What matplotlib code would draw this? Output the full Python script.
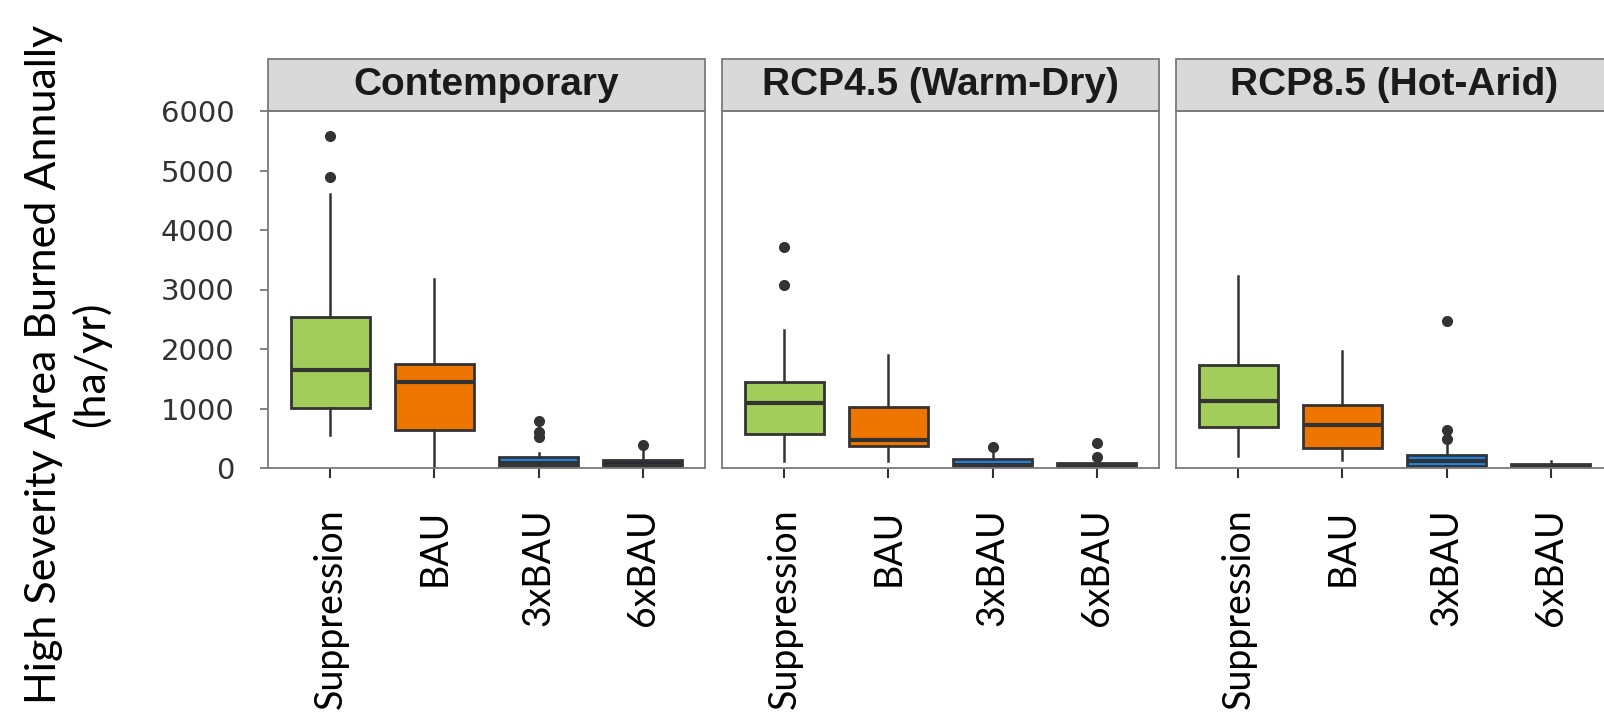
import matplotlib
matplotlib.use("Agg")
import matplotlib.pyplot as plt
from matplotlib.patches import Rectangle

# facet panels and box categories
scenarios = ["Contemporary", "RCP4.5 (Warm-Dry)", "RCP8.5 (Hot-Arid)"]
treatments = ["Suppression", "BAU", "3xBAU", "6xBAU"]
box_colors = ["#a2cd5a", "#ee7600", "#1c86ee", "#2e2a36"]

# box statistics (ha/yr), one row per scenario
whislo = [[560, 0, 0, 0], [112, 112, 0, 0], [196, 140, 0, 0]]
q1 = [[1007, 644, 39, 0], [577, 364, 22, 0], [688, 330, 39, 0]]
med = [[1640, 1438, 85, 40], [1091, 465, 50, 30], [1119, 716, 120, 25]]
q3 = [[2535, 1752, 190, 134], [1438, 1024, 157, 79], [1735, 1052, 218, 67]]
whishi = [[4606, 3173, 257, 302], [2323, 1903, 250, 170], [3229, 1959, 386, 118]]
fliers = [
    [[5586, 4897], [], [795, 610, 526], [386]],
    [[3722, 3073], [], [358], [415, 180]],
    [[], [], [2474, 639, 482], []],
]

yticks = [0, 1000, 2000, 3000, 4000, 5000, 6000]
ylabel = "High Severity Area Burned Annually\n(ha/yr)"

W, H = 1604, 716
fig = plt.figure(figsize=(W / 100, H / 100), dpi=100)

panel_left = [268, 722, 1176]
panel_w = 437
panel_top, panel_bot = 111, 468
strip_h = 52

edge = "#333333"
frame = "#7a7a7a"

axes = []
for i, name in enumerate(scenarios):
    ax = fig.add_axes([panel_left[i] / W, 1 - panel_bot / H,
                       panel_w / W, (panel_bot - panel_top) / H])
    stats = []
    for j, t in enumerate(treatments):
        stats.append(dict(med=med[i][j], q1=q1[i][j], q3=q3[i][j],
                          whislo=whislo[i][j], whishi=whishi[i][j],
                          fliers=fliers[i][j], label=t))
    bp = ax.bxp(stats, positions=range(len(treatments)), widths=0.755,
                patch_artist=True, showcaps=False,
                boxprops=dict(edgecolor=edge, linewidth=2.0),
                medianprops=dict(color=edge, linewidth=3.0),
                whiskerprops=dict(color=edge, linewidth=1.8),
                flierprops=dict(marker="o", markerfacecolor=edge,
                                markeredgecolor=edge, markersize=7))
    for patch, c in zip(bp["boxes"], box_colors):
        patch.set_facecolor(c)

    ax.set_xlim(-0.6, 3.6)
    ax.set_ylim(0, 6000)
    for s in ax.spines.values():
        s.set_color(frame)
        s.set_linewidth(1.3)

    ax.set_xticks(range(len(treatments)))
    ax.set_xticklabels(treatments, rotation=90, family="Lato", fontsize=27,
                       va="top", ha="center")
    ax.tick_params(axis="x", length=7, width=1.5, color=edge, pad=22)

    if i == 0:
        ax.set_yticks(yticks)
        ax.set_yticklabels([str(v) for v in yticks], family="DejaVu Sans",
                           fontsize=21, color="#333333")
        ax.tick_params(axis="y", length=6, width=1.3, color=frame, pad=18)
        ax.set_ylabel(ylabel, family="Lato", fontsize=31, linespacing=1.25)
        ax.yaxis.label.set_va("center")
        ax.yaxis.set_label_coords(-0.457, 0.29)
    else:
        ax.set_yticks([])

    # facet strip
    ax.add_patch(Rectangle((0, 1), 1, strip_h / (panel_bot - panel_top),
                           transform=ax.transAxes, facecolor="#d9d9d9",
                           edgecolor=frame, linewidth=1.3, clip_on=False))
    ax.text(0.5, 1 + strip_h / 2 / (panel_bot - panel_top), name,
            transform=ax.transAxes, ha="center", va="center",
            family="Liberation Sans", fontweight="bold", fontsize=28,
            color="#1a1a1a")
    axes.append(ax)

plt.savefig("out.png", dpi=100)
